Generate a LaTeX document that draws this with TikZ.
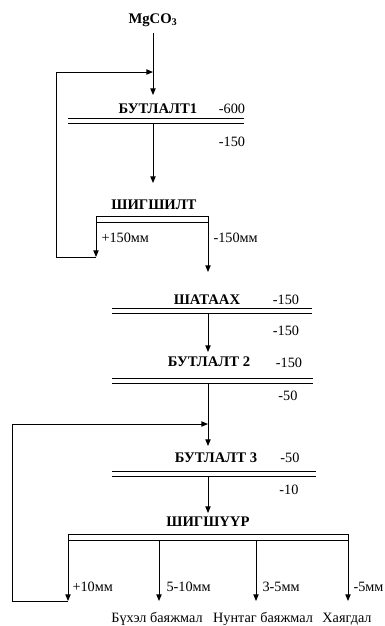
\documentclass[tikz,border=0pt]{standalone}
\usepackage{fontspec}
\setmainfont{Liberation Serif}
\usetikzlibrary{arrows.meta}

\tikzset{
  head/.style={font=\bfseries\fontsize{11}{13}\selectfont, inner sep=0pt},
  lbl/.style={font=\fontsize{10.7}{12}\selectfont, inner sep=0pt},
  flow/.style={-{Triangle[length=5pt,width=4pt]}},
}
% two parallel bars of a crusher
\newcommand\dbar[3]{\draw (#1,#3) -- (#2,#3); \draw (#1,#3+5) -- (#2,#3+5);}

\begin{document}
\begin{tikzpicture}[x=0.75pt,y=-0.75pt,line width=0.75pt]
\useasboundingbox (0,0) rectangle (385,626);

\node[head] (mg) at (153,20) {MgCO\textsubscript{3}};
\node[head] (b1) at (158,109) {БУТЛАЛТ1};
\node[lbl] (b1in) at (232,109) {-600};
\node[lbl] (b1out) at (232,142) {-150};
\node[head] (sh1) at (154,205) {ШИГШИЛТ};
\node[lbl,anchor=west] (plus1) at (101,238) {+150мм};
\node[lbl,anchor=west] (minus1) at (213,238) {-150мм};
\node[head] (sha) at (207,300) {ШАТААХ};
\node[lbl] (shain) at (286,300) {-150};
\node[lbl] (shaout) at (286,331) {-150};
\node[head] (b2) at (209,362) {БУТЛАЛТ 2};
\node[lbl] (b2in) at (289,363) {-150};
\node[lbl] (b2out) at (288,396) {-50};
\node[head] (b3) at (216,458) {БУТЛАЛТ 3};
\node[lbl] (b3in) at (290,458) {-50};
\node[lbl] (b3out) at (289,490) {-10};
\node[head] (sh2) at (208,522) {ШИГШҮҮР};
\node[lbl,anchor=west] (f1) at (72,587) {+10мм};
\node[lbl,anchor=west] (f2) at (166,587) {5-10мм};
\node[lbl,anchor=west] (f3) at (262,587) {3-5мм};
\node[lbl,anchor=east] (f4) at (384,587) {-5мм};
\node[lbl] (p1) at (157,619) {Бүхэл баяжмал};
\node[lbl] (p2) at (263,619) {Нунтаг баяжмал};
\node[lbl] (p3) at (347,619) {Хаягдал};

% first crusher and screen
\coordinate (feed) at (153,33);
\coordinate (in1) at (153,95);
\coordinate (ret1) at (153,72);
\dbar{68}{244}{118}
\coordinate (o1) at (153,123);
\coordinate (in2) at (153,183);
\draw[flow] (feed) -- (in1);
\draw[flow] (o1) -- (in2);

\draw (96,216) rectangle (208,222);
\coordinate (s1a) at (96,222);
\coordinate (s1b) at (208,222);
\coordinate (s1c) at (96,257);
\coordinate (s1d) at (208,272);
\draw[flow] (s1a) -- (s1c);
\draw[flow] (s1c) -- (56,257) -- (56,72) -- (ret1);
\draw[flow] (s1b) -- (s1d);

% roasting, second and third crusher
\dbar{112}{312}{308}
\coordinate (o2) at (208,313);
\coordinate (in3) at (208,352);
\draw[flow] (o2) -- (in3);
\dbar{112}{313}{378}
\coordinate (o3) at (208,383);
\coordinate (in4) at (208,446);
\coordinate (ret2) at (208,424);
\draw[flow] (o3) -- (in4);
\dbar{112}{316}{471}
\coordinate (o4) at (208,476);
\coordinate (in5) at (208,513);
\draw[flow] (o4) -- (in5);

% final screen
\draw (68,534) rectangle (348,540);
\foreach \x/\n in {68/a,159/b,256/c,348/d}{
  \coordinate (t\n) at (\x,540);
  \coordinate (e\n) at (\x,601);
  \draw[flow] (t\n) -- (e\n);
}
\draw[flow] (ea) -- (12,601) -- (12,424) -- (ret2);

\end{tikzpicture}
\end{document}
